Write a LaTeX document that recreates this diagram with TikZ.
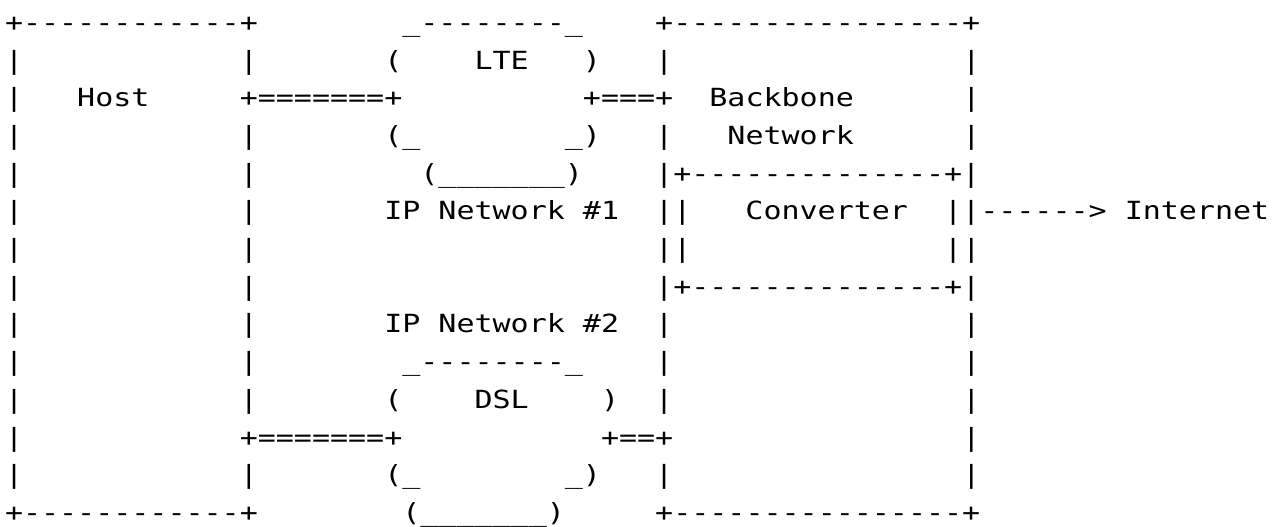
\documentclass[tikz,border=0pt]{standalone}
\usepackage{fontspec}
\setmonofont[FakeStretch=1.2]{DejaVu Sans Mono}
\usepackage{tikz}

% n blank columns of the monospaced font in force
\newcommand\gap[1]{\hspace*{#1\fontcharwd\font`x}}

\begin{document}
\begin{tikzpicture}
[asc/.style={anchor=base west,inner sep=0pt,outer sep=0pt,
   font=\ttfamily\fontsize{12.5pt}{15pt}\selectfont}
,x=0.5pt,y=-0.5pt]
\useasboundingbox (0,0) rectangle (1284,526);
\node[asc] (line0) at (5,31.3) {+------------+\gap{8}\_--------\_\gap{4}+----------------+};
\node[asc] (line1) at (5,69.0) {|\gap{12}|\gap{7}(\gap{4}LTE\gap{3})\gap{3}|\gap{16}|};
\node[asc] (line2) at (5,106.7) {|\gap{3}Host\gap{5}+=======+\gap{10}+===+\gap{2}Backbone\gap{6}|};
\node[asc] (line3) at (5,144.4) {|\gap{12}|\gap{7}(\_\gap{8}\_)\gap{3}|\gap{3}Network\gap{6}|};
\node[asc] (line4) at (5,182.1) {|\gap{12}|\gap{9}(\_\_\_\_\_\_\_)\gap{4}|+--------------+|};
\node[asc] (line5) at (5,219.8) {|\gap{12}|\gap{7}IP\gap{1}Network\gap{1}\#1\gap{2}||\gap{3}Converter\gap{2}||------>\gap{1}Internet};
\node[asc] (line6) at (5,257.5) {|\gap{12}|\gap{22}||\gap{14}||};
\node[asc] (line7) at (5,295.2) {|\gap{12}|\gap{22}|+--------------+|};
\node[asc] (line8) at (5,332.9) {|\gap{12}|\gap{7}IP\gap{1}Network\gap{1}\#2\gap{2}|\gap{16}|};
\node[asc] (line9) at (5,370.6) {|\gap{12}|\gap{8}\_--------\_\gap{4}|\gap{16}|};
\node[asc] (line10) at (5,408.3) {|\gap{12}|\gap{7}(\gap{4}DSL\gap{4})\gap{2}|\gap{16}|};
\node[asc] (line11) at (5,446.0) {|\gap{12}+=======+\gap{11}+==+\gap{16}|};
\node[asc] (line12) at (5,483.7) {|\gap{12}|\gap{7}(\_\gap{8}\_)\gap{3}|\gap{16}|};
\node[asc] (line13) at (5,521.4) {+------------+\gap{8}(\_\_\_\_\_\_\_)\gap{5}+----------------+};
\end{tikzpicture}
\end{document}
